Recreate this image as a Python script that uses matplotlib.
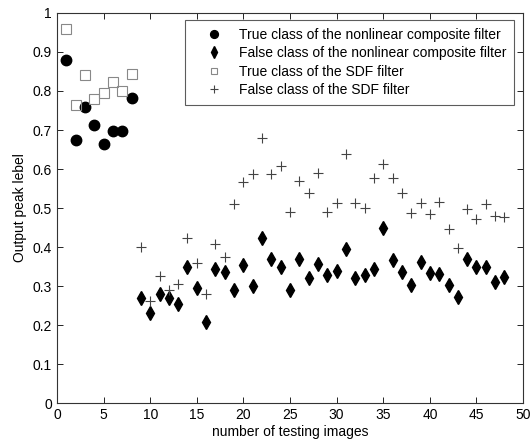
import matplotlib
matplotlib.use("Agg")
import matplotlib.pyplot as plt

plt.rcParams['font.family'] = ['Liberation Sans', 'DejaVu Sans']

true_x = [1, 2, 3, 4, 5, 6, 7, 8]
true_nl = [0.880, 0.674, 0.760, 0.712, 0.663, 0.698, 0.698, 0.781]
true_sdf = [0.958, 0.764, 0.841, 0.779, 0.794, 0.824, 0.800, 0.843]

false_x = list(range(9, 49))
false_nl = [0.268, 0.232, 0.280, 0.270, 0.253, 0.348, 0.294, 0.207, 0.343, 0.336,
            0.289, 0.353, 0.299, 0.424, 0.370, 0.349, 0.289, 0.368, 0.321, 0.356,
            0.327, 0.338, 0.394, 0.321, 0.329, 0.344, 0.448, 0.367, 0.337, 0.302,
            0.361, 0.334, 0.331, 0.302, 0.272, 0.368, 0.350, 0.350, 0.311, 0.322]
false_sdf = [0.400, 0.262, 0.326, 0.290, 0.304, 0.424, 0.358, 0.279, 0.407, 0.375,
             0.509, 0.566, 0.586, 0.680, 0.586, 0.608, 0.489, 0.569, 0.538, 0.590,
             0.490, 0.514, 0.638, 0.514, 0.500, 0.576, 0.612, 0.576, 0.538, 0.486,
             0.512, 0.484, 0.516, 0.446, 0.398, 0.497, 0.471, 0.509, 0.479, 0.478]

labels = ['True class of the nonlinear composite filter',
          'False class of the nonlinear composite filter',
          'True class of the SDF filter',
          'False class of the SDF filter']

fig = plt.figure(figsize=(5.30, 4.48), dpi=100)
ax = fig.add_axes([0.1075, 0.1004, 0.8795, 0.8706])

ax.plot(true_x, true_nl, 'o', color='black', markersize=7.5, linestyle='none', label=labels[0])
ax.plot(false_x, false_nl, 'd', color='black', markersize=7.5, linestyle='none', label=labels[1])
ax.plot(true_x, true_sdf, 's', markerfacecolor='none', markeredgecolor='#888888',
        markeredgewidth=0.8, markersize=6.5, linestyle='none', label=labels[2])
ax.plot(false_x, false_sdf, '+', color='#444444', markeredgewidth=0.8, markersize=7,
        linestyle='none', label=labels[3])

ax.set_xlim(0, 50)
ax.set_ylim(0, 1)
ax.set_xticks(range(0, 51, 5))
ax.set_yticks([i / 10 for i in range(11)])
ax.set_yticklabels(['0', '0.1', '0.2', '0.3', '0.4', '0.5', '0.6', '0.7', '0.8', '0.9', '1'])
ax.tick_params(direction='in', top=True, right=True, labelsize=10, length=4, width=0.6)
for s in ax.spines.values():
    s.set_linewidth(0.8)
    s.set_color('#333333')

ax.set_xlabel('number of testing images', fontsize=10, labelpad=2)
ax.set_ylabel('Output peak lebel', fontsize=10, labelpad=4)

leg = ax.legend(loc='upper left', bbox_to_anchor=(0.275, 0.982), borderaxespad=0,
                fontsize=10, markerscale=0.75,
                frameon=True, fancybox=False, edgecolor='#333333', borderpad=0.55,
                handletextpad=0.3, labelspacing=0.32, handlelength=3.0)
leg.get_frame().set_linewidth(0.8)

fig.savefig('out.png', dpi=100)
